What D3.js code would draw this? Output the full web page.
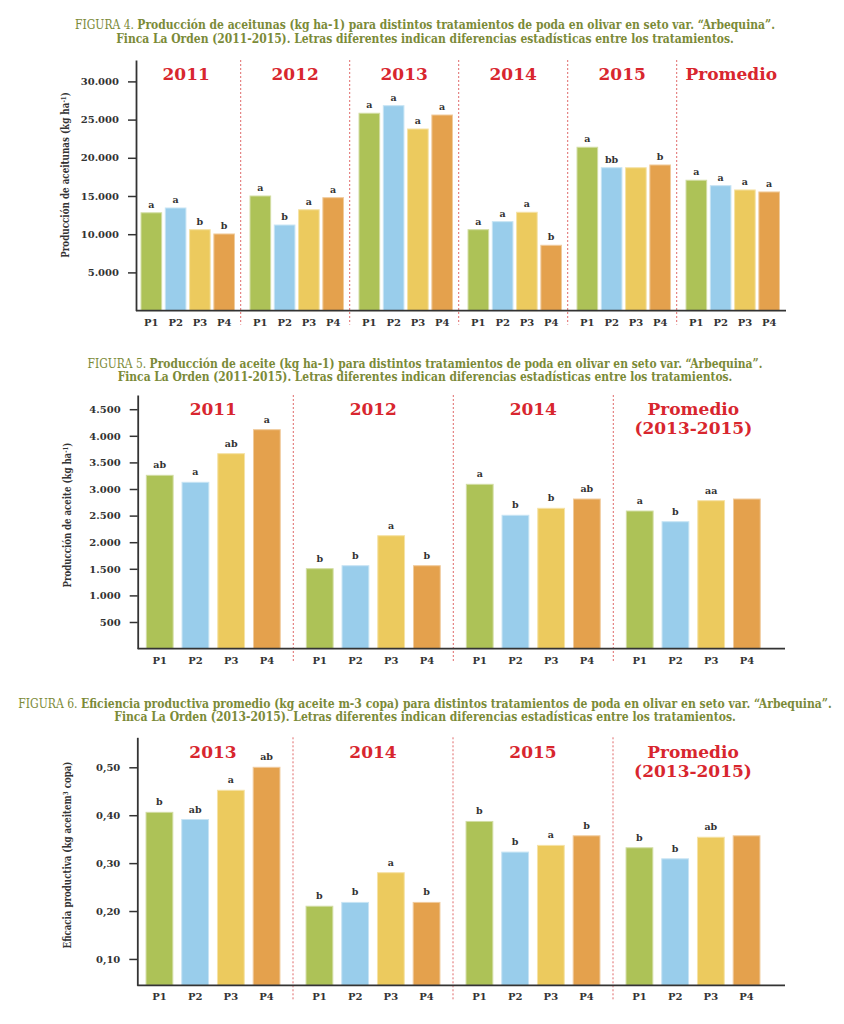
<!DOCTYPE html>
<html>
<head>
<meta charset="utf-8">
<script src="https://cdn.jsdelivr.net/npm/d3@7/dist/d3.min.js"></script>
<style>
  body { margin: 0; background: #fff; }
  text { font-family: "DejaVu Serif", serif; }
</style>
</head>
<body>
<svg id="chart" width="844" height="1024"></svg>
<script>
// ---- data ----
const treatments = ["P1", "P2", "P3", "P4"];

const fig4Groups  = [["2011"], ["2012"], ["2013"], ["2014"], ["2015"], ["Promedio"]];
const fig4Values  = [
  [12800, 13430, 10590, 10030],
  [15000, 11200, 13200, 14780],
  [25830, 26820, 23770, 25600],
  [10590, 11640, 12870, 8550],
  [21380, 18700, 18700, 19060],
  [17060, 16350, 15790, 15530]
];
const fig4Letters = [
  ["a", "a", "b", "b"],
  ["a", "b", "a", "a"],
  ["a", "a", "a", "a"],
  ["a", "a", "a", "b"],
  ["a", "bb", "", "b"],
  ["a", "a", "a", "a"]
];
const fig4Ticks = [5000, 10000, 15000, 20000, 25000, 30000];

const fig5Groups  = [["2011"], ["2012"], ["2014"], ["Promedio", "(2013-2015)"]];
const fig5Values  = [
  [3257, 3126, 3664, 4115],
  [1502, 1558, 2122, 1558],
  [3088, 2506, 2637, 2812],
  [2586, 2385, 2780, 2812]
];
const fig5Letters = [
  ["ab", "a", "ab", "a"],
  ["b", "b", "a", "b"],
  ["a", "b", "b", "ab"],
  ["a", "b", "aa", ""]
];
const fig5Ticks = [500, 1000, 1500, 2000, 2500, 3000, 3500, 4000, 4500];

const fig6Groups  = [["2013"], ["2014"], ["2015"], ["Promedio", "(2013-2015)"]];
const fig6Values  = [
  [0.406, 0.391, 0.452, 0.500],
  [0.210, 0.218, 0.280, 0.218],
  [0.387, 0.323, 0.337, 0.357],
  [0.332, 0.309, 0.354, 0.357]
];
const fig6Letters = [
  ["b", "ab", "a", "ab"],
  ["b", "b", "a", "b"],
  ["b", "b", "a", "b"],
  ["b", "b", "ab", ""]
];
const fig6Ticks = [0.1, 0.2, 0.3, 0.4, 0.5];

// ---- style ----
const barColors = ["#adc257", "#99cdeb", "#ecca5e", "#e4a14d"];
const red   = "#d8262e";
const olive = "#7b8a38";
const ink   = "#333";

const es = d3.formatLocale({decimal: ",", thousands: ".", grouping: [3], currency: ["", " €"]});

const svg = d3.select("#chart");

function drawChart(o) {
  const g = svg.append("g");

  // title, two centred lines, squeezed horizontally to the reference width
  const tg = g.append("g");
  const t1 = tg.append("text").attr("x", 0).attr("y", o.titleY).attr("text-anchor", "middle").attr("fill", olive);
  t1.append("tspan").attr("font-weight", "normal").text(o.figLabel + " ");
  t1.append("tspan").attr("font-weight", "bold").text(o.title1);
  const t2 = tg.append("text").attr("x", 0).attr("y", o.titleY + 13.3).attr("text-anchor", "middle")
    .attr("fill", olive).attr("font-weight", "bold").text(o.title2);
  [t1, t2].forEach(t => t.attr("font-family", "DejaVu Serif Condensed").attr("font-size", 12.5));
  const sx = Math.min(o.w1 / t1.node().getComputedTextLength(), o.w2 / t2.node().getComputedTextLength());
  tg.attr("transform", `translate(425,0) scale(${sx},1)`);

  // scales
  const y = d3.scaleLinear().domain(o.yDomain).range([o.baseY, o.topY]);
  const xg = d3.scaleBand().domain(d3.range(o.groups.length))
    .range([o.x0, o.x0 + o.groupW * o.groups.length]);
  const xi = d3.scaleBand().domain(treatments).range([0, o.groupW])
    .paddingInner(o.padIn).paddingOuter(o.padOut).align(o.align || 0.5);

  // group separators
  g.selectAll(".sep").data(d3.range(1, o.groups.length)).join("line")
    .attr("x1", i => xg(i)).attr("x2", i => xg(i))
    .attr("y1", o.topY).attr("y2", o.baseY + 14)
    .attr("stroke", "#e06a6a").attr("stroke-width", 1).attr("stroke-dasharray", "2,2");

  // bars per group
  const grp = g.selectAll(".grp").data(o.values).join("g")
    .attr("transform", (d, i) => `translate(${xg(i)},0)`);

  grp.selectAll("rect").data(d => d).join("rect")
    .attr("x", (d, j) => xi(treatments[j]))
    .attr("width", xi.bandwidth())
    .attr("y", d => y(d))
    .attr("height", d => o.baseY - y(d))
    .attr("fill", (d, j) => barColors[j])
    .attr("stroke", (d, j) => d3.interpolateRgb(barColors[j], "#fff")(0.45))
    .attr("stroke-width", 1);

  grp.selectAll(".lt").data((d, i) => d.map((v, j) => ({v, l: o.letters[i][j], j})))
    .join("text").attr("class", "lt")
    .attr("x", d => xi(treatments[d.j]) + xi.bandwidth() / 2)
    .attr("y", d => y(d.v) - o.letterGap)
    .attr("text-anchor", "middle").attr("font-size", 9.5).attr("font-weight", "bold").attr("fill", ink)
    .text(d => d.l);

  // group headings
  grp.append("text")
    .attr("x", o.groupW / 2).attr("y", o.headY)
    .attr("text-anchor", "middle").attr("fill", red)
    .attr("font-family", "DejaVu Serif Condensed").attr("font-weight", "bold").attr("font-size", 17)
    .selectAll("tspan").data((d, i) => o.groups[i]).join("tspan")
    .attr("x", o.groupW / 2).attr("dy", (d, k) => k ? 19 : 0).text(d => d);

  // treatment labels under bars
  grp.append("g").attr("transform", `translate(0,${o.baseY})`)
    .call(d3.axisBottom(xi).tickSize(0).tickPadding(o.xPad))
    .call(a => a.select(".domain").remove())
    .selectAll("text").attr("font-family", "DejaVu Serif").attr("font-size", 10)
    .attr("font-weight", "bold").attr("fill", ink);

  // y axis
  g.append("g").attr("transform", `translate(${o.axisX},0)`)
    .call(d3.axisLeft(y).tickValues(o.ticks).tickSize(8).tickSizeOuter(0).tickPadding(9)
      .tickFormat(es.format(o.fmt)))
    .call(a => a.select(".domain").attr("stroke", ink).attr("stroke-width", 1.8))
    .call(a => a.selectAll(".tick line").attr("stroke", ink).attr("stroke-width", 1.5))
    .selectAll("text").attr("font-family", "DejaVu Serif").attr("font-size", 10)
    .attr("font-weight", "bold").attr("fill", ink);

  // baseline
  g.append("line").attr("x1", o.axisX).attr("x2", o.endX).attr("y1", o.baseY).attr("y2", o.baseY)
    .attr("stroke", ink).attr("stroke-width", 1.8);

  // y label, squeezed along its length to the reference size
  const yl = g.append("text")
    .attr("font-family", "DejaVu Serif Condensed")
    .attr("text-anchor", "middle").attr("font-size", 10.5).attr("font-weight", "bold").attr("fill", ink);
  yl.append("tspan").text(o.yLabel[0]);
  yl.append("tspan").attr("font-size", "0.65em").attr("dy", "-0.4em").text(o.yLabel[1]);
  yl.append("tspan").attr("dy", "0.26em").text(o.yLabel[2]);
  const ls = o.yLabelLen / yl.node().getComputedTextLength();
  yl.attr("transform", `translate(${o.yLabelX},${o.yLabelY}) rotate(-90) scale(${ls},1)`);
}

drawChart({
  figLabel: "FIGURA 4.",
  title1: "Producción de aceitunas (kg ha-1) para distintos tratamientos de poda en olivar en seto var. “Arbequina”.",
  title2: "Finca La Orden (2011-2015). Letras diferentes indican diferencias estadísticas entre los tratamientos.",
  titleY: 29.5, w1: 706, w2: 618,
  groups: fig4Groups, values: fig4Values, letters: fig4Letters, ticks: fig4Ticks, fmt: ",.0f",
  yDomain: [0, 32800], baseY: 310.6, topY: 60,
  x0: 131.7, groupW: 109, padIn: 0.15, padOut: 0.32, align: 0.6,
  axisX: 136, endX: 786, headY: 80, letterGap: 5, xPad: 8,
  yLabel: ["Producción de aceitunas (kg ha", "-1", ")"], yLabelX: 69, yLabelY: 175, yLabelLen: 166
});

drawChart({
  figLabel: "FIGURA 5.",
  title1: "Producción de aceite (kg ha-1) para distintos tratamientos de poda en olivar en seto var. “Arbequina”.",
  title2: "Finca La Orden (2011-2015). Letras diferentes indican diferencias estadísticas entre los tratamientos.",
  titleY: 368, w1: 676, w2: 617,
  groups: fig5Groups, values: fig5Values, letters: fig5Letters, ticks: fig5Ticks, fmt: ",.0f",
  yDomain: [0, 4767], baseY: 648.6, topY: 395,
  x0: 133.3, groupW: 160, padIn: 0.25, padOut: 0.365,
  axisX: 137.7, endX: 785, headY: 415, letterGap: 7, xPad: 8,
  yLabel: ["Producción de aceite (kg ha", "-1", ")"], yLabelX: 71, yLabelY: 515, yLabelLen: 145
});

drawChart({
  figLabel: "FIGURA 6.",
  title1: "Eficiencia productiva promedio (kg aceite m-3 copa) para distintos tratamientos de poda en olivar en seto var. “Arbequina”.",
  title2: "Finca La Orden (2013-2015). Letras diferentes indican diferencias estadísticas entre los tratamientos.",
  titleY: 708, w1: 817, w2: 622,
  groups: fig6Groups, values: fig6Values, letters: fig6Letters, ticks: fig6Ticks, fmt: ",.2f",
  yDomain: [0.045, 0.5626], baseY: 985.3, topY: 737.3,
  x0: 133, groupW: 160, padIn: 0.25, padOut: 0.365,
  axisX: 137.3, endX: 785, headY: 758, letterGap: 7, xPad: 8,
  yLabel: ["Eficacia productiva (kg aceitem", "3", " copa)"], yLabelX: 71, yLabelY: 855, yLabelLen: 187
});
</script>
</body>
</html>
